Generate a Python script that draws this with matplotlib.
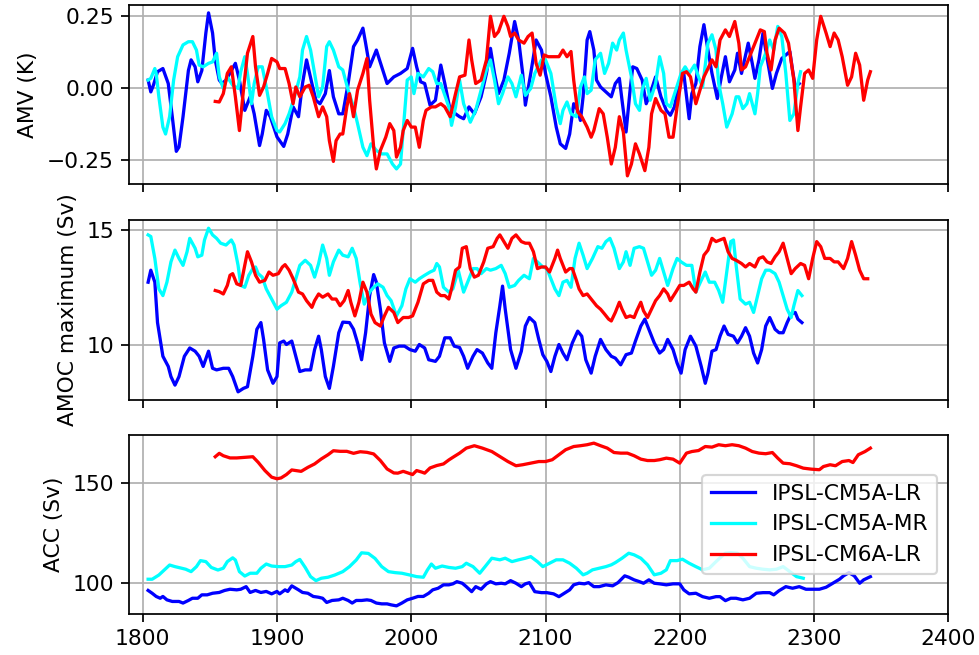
import matplotlib.pyplot as plt

models = ['IPSL-CM5A-LR', 'IPSL-CM5A-MR', 'IPSL-CM6A-LR']
colors = ['blue', 'cyan', 'red']

# ---- AMV (K) ----
amv_lr_yr = [1804, 1806, 1808, 1811, 1815, 1819, 1822, 1825, 1827, 1830, 1834, 1836, 1839, 1841, 1844, 1847,
             1849, 1852, 1854, 1857, 1859, 1862, 1866, 1869, 1872, 1876, 1880, 1883, 1887, 1889, 1892, 1895,
             1900, 1905, 1908, 1912, 1916, 1919, 1922, 1926, 1929, 1932, 1936, 1939, 1942, 1946, 1949, 1953,
             1957, 1960, 1964, 1966, 1969, 1972, 1974, 1978, 1982, 1987, 1992, 1997, 2001, 2004, 2007, 2010,
             2014, 2018, 2022, 2025, 2029, 2033, 2036, 2039, 2043, 2047, 2052, 2056, 2059, 2062, 2065, 2069,
             2073, 2077, 2080, 2083, 2085, 2089, 2093, 2097, 2100, 2104, 2108, 2111, 2115, 2118, 2121, 2124,
             2126, 2128, 2131, 2133, 2136, 2138, 2141, 2145, 2149, 2152, 2155, 2157, 2160, 2163, 2165, 2168,
             2172, 2175, 2178, 2182, 2186, 2190, 2193, 2196, 2200, 2203, 2207, 2209, 2212, 2215, 2218, 2221,
             2224, 2228, 2231, 2234, 2237, 2241, 2243, 2246, 2251, 2254, 2256, 2259, 2262, 2264, 2267, 2269,
             2272, 2276, 2279, 2282, 2284, 2286, 2289]
amv_lr = [0.027, -0.014, 0.01, 0.056, 0.067, 0.015, -0.10, -0.22, -0.205, -0.10, 0.06, 0.097, 0.073, 0.021, 0.06, 0.19,
          0.26, 0.19, 0.097, 0.027, 0.015, 0.027, 0.06, 0.085, 0.027, -0.078, -0.031, -0.09, -0.20, -0.16, -0.078, -0.10,
          -0.17, -0.203, -0.16, -0.066, -0.10, 0.015, 0.097, 0.015, -0.043, -0.055, -0.02, 0.06, -0.031, -0.09, -0.09, 0.015,
          0.143, 0.166, 0.207, 0.155, 0.073, 0.108, 0.131, 0.073, 0.015, 0.038, 0.05, 0.067, 0.137, 0.073, 0.021, 0.015,
          -0.06, -0.043, 0.079, 0.015, -0.078, -0.09, -0.10, -0.107, -0.066, -0.09, -0.031, 0.05, 0.137, 0.05, -0.02, 0.027,
          0.12, 0.23, 0.166, 0.05, -0.06, 0.05, 0.166, 0.131, 0.05, -0.031, -0.136, -0.194, -0.21, -0.16, -0.055, -0.078,
          -0.113, -0.031, 0.166, 0.195, 0.131, 0.027, 0.003, -0.014, -0.031, 0.015, 0.033, -0.043, -0.153, -0.008, 0.073, 0.067,
          0.027, -0.055, -0.02, 0.038, -0.031, -0.078, -0.095, -0.066, 0.027, 0.05, -0.107, -0.02, 0.015, 0.143, 0.219, 0.131,
          0.05, -0.037, 0.038, 0.108, 0.021, 0.062, 0.12, 0.05, 0.155, 0.085, 0.033, 0.097, 0.19, 0.131, 0.05, -0.002,
          0.05, 0.102, 0.114, 0.126, 0.062, 0.003, 0.015]

amv_mr_yr = [1804, 1806, 1809, 1810, 1812, 1815, 1817, 1820, 1823, 1826, 1830, 1834, 1837, 1840, 1842, 1845,
             1849, 1852, 1855, 1857, 1860, 1863, 1867, 1871, 1873, 1876, 1878, 1881, 1883, 1886, 1889, 1892,
             1896, 1900, 1902, 1906, 1909, 1913, 1917, 1919, 1922, 1925, 1928, 1931, 1934, 1937, 1939, 1942,
             1946, 1949, 1953, 1957, 1960, 1964, 1967, 1970, 1974, 1978, 1982, 1986, 1989, 1992, 1994, 1997,
             2000, 2002, 2005, 2009, 2013, 2016, 2019, 2022, 2028, 2030, 2033, 2036, 2039, 2044, 2048, 2052,
             2056, 2059, 2062, 2065, 2068, 2072, 2075, 2078, 2082, 2085, 2089, 2092, 2097, 2100, 2104, 2108,
             2111, 2113, 2116, 2119, 2123, 2126, 2129, 2131, 2134, 2137, 2141, 2144, 2147, 2150, 2153, 2155,
             2158, 2160, 2164, 2167, 2170, 2172, 2175, 2178, 2182, 2185, 2188, 2190, 2193, 2197, 2201, 2204,
             2207, 2211, 2214, 2217, 2221, 2224, 2227, 2229, 2232, 2235, 2239, 2242, 2244, 2247, 2250, 2252,
             2256, 2258, 2260, 2264, 2267, 2270, 2273, 2276, 2279, 2282, 2285, 2288, 2290]
amv_mr = [0.027, 0.033, 0.067, 0.05, -0.031, -0.136, -0.16, -0.10, 0.027, 0.108, 0.149, 0.16, 0.16, 0.131, 0.079, 0.073,
          0.085, 0.09, 0.12, 0.038, -0.002, 0.038, 0.009, -0.002, 0.056, 0.108, 0.05, -0.055, 0.015, 0.073, 0.073, 0.003,
          -0.10, -0.148, -0.153, -0.124, -0.09, -0.031, 0.038, 0.131, 0.178, 0.131, 0.05, -0.031, 0.003, 0.143, 0.16, 0.131,
          0.073, 0.062, -0.008, -0.066, -0.124, -0.206, -0.235, -0.194, -0.217, -0.229, -0.229, -0.264, -0.281, -0.264, -0.148, 0.027,
          0.038, -0.02, 0.05, 0.038, 0.067, 0.056, 0.015, 0.015, -0.066, -0.13, -0.066, 0.027, -0.055, -0.119, -0.078, -0.008,
          0.062, 0.097, 0.027, -0.055, -0.02, 0.038, 0.015, -0.031, 0.044, -0.026, -0.002, 0.05, 0.097, 0.097, 0.05, -0.066,
          -0.124, -0.078, -0.049, -0.09, -0.10, 0.003, 0.038, -0.02, -0.008, 0.097, 0.12, 0.05, 0.085, 0.155, 0.131, 0.166,
          0.19, 0.131, 0.038, -0.055, -0.078, -0.008, 0.033, -0.043, 0.015, 0.108, 0.05, -0.055, -0.066, -0.008, 0.05, 0.073,
          0.05, 0.079, 0.038, 0.003, 0.155, 0.184, 0.131, 0.015, -0.055, -0.136, -0.09, -0.031, -0.031, -0.072, -0.055, -0.02,
          -0.09, -0.02, 0.073, 0.12, 0.166, 0.131, 0.213, 0.178, 0.05, -0.113, -0.09, 0.015, 0.056]

amv_6a_yr = [1854, 1857, 1860, 1863, 1866, 1869, 1872, 1875, 1878, 1882, 1884, 1887, 1890, 1893, 1896, 1900,
             1902, 1906, 1909, 1912, 1914, 1917, 1921, 1924, 1927, 1931, 1934, 1937, 1939, 1942, 1944, 1947,
             1949, 1952, 1954, 1957, 1960, 1964, 1967, 1969, 1972, 1974, 1977, 1981, 1984, 1987, 1989, 1992,
             1994, 1997, 2000, 2003, 2006, 2009, 2011, 2015, 2018, 2022, 2025, 2029, 2033, 2036, 2040, 2043,
             2045, 2048, 2052, 2056, 2059, 2062, 2065, 2069, 2072, 2074, 2077, 2080, 2084, 2087, 2090, 2093,
             2096, 2099, 2102, 2106, 2110, 2113, 2116, 2119, 2121, 2124, 2127, 2131, 2134, 2136, 2140, 2143,
             2146, 2149, 2152, 2155, 2158, 2161, 2164, 2167, 2170, 2174, 2177, 2179, 2182, 2186, 2189, 2192,
             2195, 2198, 2202, 2205, 2208, 2212, 2215, 2218, 2221, 2224, 2227, 2230, 2234, 2237, 2241, 2244,
             2246, 2249, 2252, 2256, 2260, 2263, 2265, 2268, 2271, 2274, 2278, 2281, 2285, 2288, 2290, 2293,
             2296, 2299, 2302, 2305, 2309, 2312, 2315, 2318, 2321, 2325, 2328, 2331, 2334, 2337, 2340, 2342]
amv_6a = [-0.047, -0.049, -0.02, 0.05, 0.073, -0.031, -0.148, -0.008, 0.12, 0.178, 0.073, -0.026, 0.003, 0.05, 0.102, 0.09,
          0.067, 0.067, 0.015, -0.055, 0.003, -0.031, 0.003, 0.009, -0.031, -0.10, -0.066, -0.10, -0.183, -0.255, -0.183, -0.16,
          -0.16, -0.066, -0.02, -0.10, -0.008, 0.05, 0.102, -0.043, -0.206, -0.281, -0.217, -0.171, -0.124, -0.148, -0.24, -0.206,
          -0.148, -0.113, -0.136, -0.136, -0.206, -0.113, -0.078, -0.066, -0.066, -0.055, -0.066, -0.10, -0.02, 0.038, 0.044, 0.166,
          0.097, 0.015, 0.027, 0.097, 0.248, 0.178, 0.195, 0.248, 0.213, 0.178, 0.19, 0.166, 0.155, 0.178, 0.19, 0.085,
          0.044, 0.114, 0.108, 0.108, 0.108, 0.131, 0.108, 0.126, 0.027, -0.084, -0.10, -0.136, -0.171, -0.148, -0.072, -0.09,
          -0.171, -0.264, -0.206, -0.10, -0.153, -0.305, -0.264, -0.194, -0.229, -0.287, -0.206, -0.09, -0.037, -0.078, -0.09, -0.171,
          -0.171, -0.066, 0.05, 0.056, 0.038, -0.055, -0.008, 0.038, 0.067, 0.097, 0.073, 0.166, 0.201, 0.178, 0.23, 0.155,
          0.062, 0.073, 0.108, 0.155, 0.201, 0.195, 0.12, 0.062, 0.166, 0.207, 0.19, 0.155, 0.027, -0.148, -0.066, 0.05,
          0.062, 0.033, 0.166, 0.248, 0.19, 0.143, 0.19, 0.166, 0.108, 0.009, 0.038, 0.12, 0.079, -0.043, 0.027, 0.056]

# ---- AMOC maximum (Sv) ----
amoc_lr_yr = [1804, 1806, 1809, 1811, 1815, 1819, 1821, 1824, 1827, 1831, 1835, 1839, 1842, 1845, 1849, 1852,
              1855, 1860, 1864, 1867, 1871, 1875, 1878, 1882, 1885, 1888, 1890, 1893, 1897, 1900, 1902, 1905,
              1907, 1911, 1914, 1917, 1921, 1925, 1928, 1931, 1933, 1936, 1939, 1942, 1946, 1949, 1954, 1957,
              1960, 1963, 1966, 1969, 1972, 1974, 1977, 1980, 1984, 1987, 1991, 1995, 1999, 2003, 2006, 2010,
              2013, 2018, 2021, 2025, 2029, 2032, 2036, 2039, 2042, 2046, 2049, 2053, 2057, 2060, 2063, 2066,
              2068, 2070, 2074, 2078, 2082, 2085, 2088, 2092, 2095, 2098, 2101, 2104, 2107, 2110, 2113, 2116,
              2120, 2124, 2127, 2130, 2134, 2137, 2141, 2145, 2149, 2152, 2156, 2160, 2164, 2167, 2171, 2174,
              2177, 2181, 2185, 2188, 2191, 2195, 2198, 2201, 2204, 2208, 2212, 2216, 2219, 2221, 2224, 2227,
              2230, 2233, 2236, 2240, 2243, 2246, 2249, 2252, 2255, 2258, 2261, 2264, 2267, 2271, 2274, 2277,
              2280, 2283, 2286, 2288, 2291]
amoc_lr = [12.73, 13.25, 12.73, 10.98, 9.52, 9.08, 8.64, 8.27, 8.64, 9.52, 9.88, 9.74, 9.52, 9.08, 9.74, 9.0,
           8.93, 9.0, 9.0, 8.64, 7.98, 8.13, 8.2, 9.52, 10.69, 10.98, 10.25, 8.93, 8.35, 8.64, 10.1, 10.18,
           10.03, 10.18, 9.52, 8.86, 8.93, 8.93, 9.81, 10.39, 9.81, 8.64, 8.13, 9.08, 10.54, 11.0, 10.98, 10.69,
           10.1, 9.37, 10.54, 12.15, 13.06, 12.73, 11.56, 10.1, 9.30, 9.88, 9.96, 9.96, 9.81, 9.74, 10.03, 9.88,
           9.37, 9.30, 9.52, 10.32, 10.32, 9.96, 9.9, 9.52, 9.0, 9.52, 9.81, 9.66, 9.23, 9.0, 10.54, 11.71,
           12.56, 11.56, 9.81, 9.0, 9.74, 10.83, 11.2, 10.98, 10.25, 9.59, 9.30, 8.86, 9.52, 10.03, 9.66, 9.37,
           10.1, 10.61, 10.39, 9.37, 8.79, 9.52, 10.25, 9.81, 9.52, 9.44, 9.15, 9.59, 9.66, 10.18, 10.83, 11.13,
           10.69, 10.1, 9.66, 9.81, 10.25, 9.81, 9.23, 8.79, 9.81, 10.39, 9.96, 9.08, 8.35, 8.79, 9.74, 9.81,
           10.39, 10.83, 10.47, 10.39, 10.1, 10.39, 10.76, 10.39, 9.66, 9.23, 9.81, 10.83, 11.2, 10.69, 10.54, 10.54,
           10.98, 11.35, 11.42, 11.13, 10.98]

amoc_mr_yr = [1804, 1806, 1809, 1812, 1815, 1818, 1821, 1824, 1827, 1830, 1833, 1835, 1839, 1841, 1844, 1846,
              1849, 1852, 1855, 1858, 1862, 1866, 1868, 1871, 1873, 1876, 1879, 1882, 1884, 1886, 1889, 1892,
              1896, 1900, 1903, 1907, 1911, 1914, 1917, 1921, 1925, 1928, 1931, 1934, 1937, 1939, 1942, 1946,
              1949, 1953, 1956, 1959, 1962, 1965, 1969, 1972, 1975, 1979, 1982, 1985, 1989, 1993, 1996, 1999,
              2003, 2006, 2010, 2014, 2017, 2019, 2021, 2024, 2028, 2031, 2035, 2039, 2042, 2046, 2049, 2052,
              2056, 2059, 2063, 2067, 2070, 2073, 2077, 2080, 2084, 2088, 2091, 2094, 2098, 2101, 2104, 2107,
              2110, 2113, 2116, 2119, 2122, 2125, 2128, 2131, 2135, 2139, 2142, 2145, 2148, 2151, 2155, 2158,
              2160, 2163, 2166, 2170, 2173, 2176, 2179, 2182, 2185, 2188, 2191, 2195, 2198, 2201, 2205, 2209,
              2212, 2216, 2219, 2222, 2226, 2229, 2232, 2235, 2238, 2240, 2242, 2245, 2249, 2252, 2255, 2258,
              2261, 2264, 2267, 2271, 2274, 2277, 2280, 2283, 2285, 2288, 2291]
amoc_mr = [14.78, 14.71, 13.76, 12.44, 12.15, 12.73, 13.61, 14.12, 13.76, 13.46, 14.05, 14.63, 14.2, 13.83, 13.9, 14.56,
           15.07, 14.78, 14.63, 14.42, 14.34, 14.56, 14.34, 13.46, 12.59, 12.51, 13.03, 13.32, 13.39, 13.1, 12.95, 12.44,
           12.0, 11.56, 11.71, 11.86, 12.3, 12.88, 13.46, 13.68, 13.46, 12.95, 13.54, 14.34, 13.76, 13.03, 13.61, 14.12,
           13.9, 13.83, 14.2, 13.76, 12.66, 11.78, 12.3, 12.51, 12.66, 12.51, 12.15, 11.93, 11.27, 11.71, 12.44, 12.88,
           12.73, 12.88, 13.03, 13.17, 13.25, 13.54, 13.39, 12.51, 12.3, 12.44, 13.25, 12.3, 12.73, 13.32, 13.32, 13.1,
           13.32, 13.25, 13.32, 13.46, 13.1, 12.51, 12.59, 12.81, 13.03, 12.88, 13.76, 13.61, 13.39, 13.32, 12.88, 12.44,
           12.15, 12.73, 12.81, 12.51, 13.76, 14.42, 13.9, 13.32, 13.76, 14.27, 14.2, 14.49, 14.63, 14.2, 13.32, 13.61,
           14.05, 13.46, 14.2, 14.27, 14.2, 13.61, 13.03, 13.25, 13.76, 13.17, 12.59, 13.32, 13.76, 13.61, 13.46, 13.46,
           12.3, 12.81, 13.17, 12.73, 12.73, 12.37, 11.86, 13.17, 14.49, 14.56, 13.46, 12.0, 11.78, 11.86, 11.42, 12.15,
           12.88, 13.25, 13.25, 13.1, 12.73, 12.15, 11.56, 11.2, 11.71, 12.37, 12.15]

amoc_6a_yr = [1854, 1857, 1860, 1863, 1865, 1867, 1870, 1873, 1876, 1878, 1881, 1884, 1887, 1891, 1894, 1897,
              1901, 1904, 1906, 1909, 1912, 1916, 1919, 1922, 1926, 1928, 1931, 1934, 1938, 1941, 1944, 1947,
              1950, 1953, 1955, 1958, 1961, 1964, 1967, 1970, 1973, 1977, 1980, 1983, 1987, 1990, 1994, 1998,
              2001, 2005, 2009, 2013, 2016, 2019, 2022, 2025, 2028, 2030, 2033, 2036, 2038, 2041, 2044, 2047,
              2050, 2054, 2057, 2061, 2064, 2066, 2069, 2072, 2075, 2078, 2082, 2085, 2088, 2091, 2094, 2097,
              2100, 2103, 2107, 2109, 2111, 2115, 2118, 2120, 2123, 2125, 2128, 2131, 2134, 2138, 2141, 2144,
              2147, 2149, 2152, 2155, 2157, 2160, 2163, 2166, 2168, 2171, 2173, 2176, 2179, 2182, 2185, 2188,
              2191, 2193, 2197, 2200, 2203, 2207, 2210, 2212, 2215, 2218, 2221, 2224, 2227, 2230, 2233, 2236,
              2239, 2242, 2246, 2249, 2252, 2256, 2259, 2262, 2265, 2268, 2271, 2274, 2277, 2280, 2283, 2286,
              2290, 2293, 2296, 2299, 2302, 2305, 2308, 2312, 2315, 2318, 2322, 2325, 2328, 2331, 2334, 2337,
              2340]
amoc_6a = [12.37, 12.32, 12.22, 12.59, 13.03, 13.1, 12.66, 12.59, 13.46, 14.05, 13.61, 13.03, 12.73, 12.81, 13.17, 13.03,
           13.1, 13.39, 13.49, 13.25, 12.88, 12.3, 12.22, 11.93, 11.64, 11.93, 12.22, 12.08, 12.22, 12.0, 12.0, 11.71,
           11.93, 12.37, 11.86, 11.27, 11.86, 12.73, 12.3, 11.35, 10.98, 10.83, 11.27, 11.64, 11.42, 10.98, 11.2, 11.2,
           11.27, 11.86, 12.66, 12.81, 12.81, 12.3, 12.15, 12.15, 12.0, 12.44, 13.25, 13.39, 14.2, 14.27, 13.32, 12.95,
           13.03, 13.61, 14.2, 14.27, 14.63, 14.78, 14.49, 14.2, 14.63, 14.78, 14.49, 14.42, 14.42, 14.05, 13.32, 13.39,
           13.39, 13.17, 13.76, 14.12, 13.76, 13.17, 13.32, 13.32, 12.81, 12.44, 12.15, 12.22, 12.0, 11.71, 11.56, 11.35,
           11.13, 11.05, 11.42, 11.86, 11.56, 11.2, 11.27, 11.2, 11.49, 11.86, 11.49, 11.2, 11.56, 11.93, 12.15, 12.44,
           12.22, 11.93, 12.3, 12.59, 12.59, 12.73, 12.44, 12.3, 13.17, 13.9, 14.12, 14.63, 14.49, 14.56, 14.63, 14.05,
           13.76, 13.68, 13.54, 13.39, 13.54, 13.39, 13.76, 13.83, 13.61, 13.54, 13.83, 14.05, 14.42, 13.76, 13.1, 13.32,
           13.54, 13.46, 12.88, 13.76, 14.49, 14.27, 13.76, 13.76, 13.61, 13.61, 13.32, 13.76, 14.49, 13.9, 13.25, 12.88,
           12.88]

# ---- ACC (Sv) ----
acc_lr_yr = [1804, 1807, 1810, 1813, 1815, 1818, 1822, 1827, 1830, 1834, 1837, 1841, 1844, 1848, 1852, 1857,
             1861, 1865, 1870, 1873, 1877, 1880, 1884, 1888, 1892, 1896, 1900, 1902, 1906, 1908, 1911, 1916,
             1919, 1923, 1927, 1931, 1934, 1937, 1941, 1946, 1949, 1953, 1956, 1959, 1963, 1967, 1970, 1974,
             1978, 1982, 1985, 1989, 1993, 1997, 2001, 2005, 2009, 2013, 2016, 2020, 2024, 2028, 2031, 2034,
             2038, 2041, 2045, 2048, 2052, 2056, 2059, 2063, 2067, 2070, 2074, 2078, 2082, 2085, 2088, 2092,
             2097, 2101, 2106, 2110, 2114, 2118, 2121, 2125, 2129, 2132, 2136, 2140, 2145, 2150, 2154, 2159,
             2162, 2166, 2170, 2173, 2177, 2181, 2185, 2190, 2195, 2200, 2203, 2207, 2212, 2217, 2222, 2227,
             2230, 2234, 2238, 2242, 2247, 2252, 2257, 2262, 2267, 2270, 2274, 2279, 2284, 2289, 2294, 2299,
             2304, 2309, 2314, 2319, 2322, 2326, 2330, 2334, 2337, 2342]
acc_lr = [96.4, 95.0, 93.4, 92.5, 93.4, 91.7, 90.9, 90.9, 90.1, 91.4, 92.5, 92.5, 94.2, 94.2, 95.0, 95.4,
          96.4, 97.0, 96.7, 97.0, 98.3, 95.4, 96.4, 95.4, 95.9, 94.7, 95.9, 94.7, 96.7, 95.9, 98.7, 96.7,
          95.4, 95.0, 93.4, 93.0, 92.5, 90.4, 91.4, 91.7, 92.5, 91.4, 90.1, 91.4, 91.4, 91.7, 91.4, 90.1,
          89.7, 89.7, 89.2, 88.7, 90.1, 91.7, 92.5, 93.4, 93.4, 95.0, 96.7, 97.5, 99.2, 99.2, 99.7, 100.8,
          100.0, 98.3, 95.8, 98.3, 97.0, 99.7, 100.8, 99.7, 100.0, 99.7, 101.3, 100.0, 98.3, 99.7, 100.3, 95.8,
          95.3, 95.3, 94.7, 93.3, 95.0, 96.7, 99.2, 100.0, 99.7, 100.3, 98.3, 98.3, 99.2, 98.7, 100.3, 103.7,
          103.0, 101.7, 100.8, 100.0, 101.7, 100.0, 99.7, 99.2, 99.7, 99.7, 96.7, 94.7, 95.0, 93.3, 92.5, 93.3,
          93.3, 91.3, 92.5, 92.5, 91.7, 92.5, 95.0, 95.3, 95.3, 94.2, 96.3, 98.3, 97.5, 98.3, 97.0, 97.0,
          97.0, 98.0, 100.0, 102.0, 103.7, 105.3, 103.7, 100.0, 101.7, 103.3]

acc_mr_yr = [1804, 1807, 1812, 1816, 1820, 1824, 1829, 1832, 1836, 1840, 1843, 1847, 1851, 1856, 1860, 1863,
             1867, 1869, 1872, 1876, 1880, 1885, 1888, 1892, 1896, 1901, 1906, 1911, 1914, 1917, 1921, 1925,
             1929, 1933, 1938, 1943, 1949, 1954, 1959, 1963, 1968, 1973, 1978, 1983, 1988, 1993, 1999, 2004,
             2009, 2012, 2015, 2018, 2023, 2028, 2033, 2038, 2041, 2046, 2051, 2055, 2060, 2066, 2070, 2075,
             2080, 2085, 2089, 2094, 2098, 2103, 2108, 2113, 2118, 2123, 2128, 2131, 2135, 2140, 2145, 2149,
             2152, 2157, 2162, 2166, 2171, 2176, 2181, 2186, 2190, 2193, 2198, 2202, 2207, 2212, 2217, 2222,
             2227, 2231, 2234, 2238, 2243, 2247, 2252, 2257, 2262, 2267, 2272, 2277, 2282, 2287, 2292]
acc_mr = [102.0, 102.0, 104.1, 106.6, 109.1, 108.3, 107.5, 107.0, 105.8, 108.3, 111.3, 110.8, 107.9, 106.6, 107.5, 110.8,
          112.7, 111.6, 105.8, 103.6, 105.0, 105.0, 107.5, 109.6, 108.6, 108.3, 108.3, 109.1, 110.8, 111.9, 107.9, 103.3,
          101.3, 102.5, 103.0, 104.1, 105.8, 108.3, 111.6, 115.2, 114.9, 112.4, 108.3, 105.8, 105.3, 105.0, 104.1, 103.3,
          103.0, 106.6, 109.6, 107.5, 108.6, 107.9, 107.5, 108.3, 110.0, 108.3, 105.0, 108.3, 112.5, 111.7, 112.5, 110.8,
          111.7, 112.5, 113.3, 110.8, 108.3, 110.0, 111.7, 111.7, 110.0, 107.5, 104.2, 105.0, 106.7, 107.5, 108.3, 109.2,
          110.3, 112.5, 115.0, 114.2, 112.5, 109.2, 104.2, 105.0, 106.7, 111.3, 111.3, 112.0, 110.0, 108.3, 106.7, 107.5,
          110.8, 113.3, 115.0, 115.3, 115.0, 112.5, 108.3, 107.5, 107.0, 106.7, 107.0, 108.3, 105.8, 103.3, 102.5]

acc_6a_yr = [1854, 1857, 1860, 1865, 1870, 1876, 1882, 1886, 1891, 1896, 1900, 1903, 1907, 1911, 1914, 1918,
             1923, 1928, 1933, 1938, 1942, 1947, 1952, 1957, 1962, 1967, 1972, 1977, 1982, 1987, 1990, 1994,
             1998, 2001, 2004, 2008, 2010, 2014, 2019, 2024, 2028, 2031, 2036, 2041, 2047, 2053, 2060, 2066,
             2072, 2078, 2083, 2089, 2095, 2100, 2105, 2110, 2115, 2121, 2126, 2131, 2136, 2141, 2146, 2151,
             2156, 2161, 2166, 2171, 2176, 2181, 2185, 2190, 2195, 2200, 2205, 2209, 2214, 2219, 2224, 2229,
             2234, 2239, 2244, 2249, 2254, 2259, 2264, 2269, 2273, 2277, 2282, 2287, 2292, 2298, 2304, 2307,
             2312, 2316, 2321, 2326, 2329, 2333, 2338, 2342]
acc_6a = [163.2, 164.9, 163.7, 162.6, 162.6, 162.9, 163.2, 160.4, 156.3, 153.0, 152.2, 152.6, 154.3, 156.6, 156.3, 155.9,
          157.9, 159.6, 162.1, 164.2, 166.2, 165.9, 165.9, 164.9, 165.7, 165.4, 164.6, 161.3, 157.1, 155.1, 155.0, 155.9,
          155.0, 154.3, 156.3, 155.5, 155.0, 157.6, 158.8, 159.6, 161.6, 162.9, 165.0, 167.5, 168.7, 167.5, 165.8, 163.3,
          160.8, 158.7, 159.2, 160.0, 160.8, 160.8, 161.7, 164.2, 166.7, 168.3, 168.7, 169.2, 170.0, 168.7, 167.5, 165.3,
          165.0, 165.0, 163.7, 162.0, 161.3, 161.3, 161.7, 162.5, 162.0, 160.0, 165.0, 165.8, 166.3, 168.3, 168.0, 169.2,
          168.7, 169.2, 168.7, 167.5, 165.8, 165.0, 164.7, 165.3, 162.5, 160.0, 159.7, 158.7, 157.5, 157.0, 156.7, 158.3,
          159.2, 158.7, 160.8, 161.3, 160.3, 164.2, 165.8, 167.5]

amv = [(amv_lr_yr, amv_lr), (amv_mr_yr, amv_mr), (amv_6a_yr, amv_6a)]
amoc = [(amoc_lr_yr, amoc_lr), (amoc_mr_yr, amoc_mr), (amoc_6a_yr, amoc_6a)]
acc = [(acc_lr_yr, acc_lr), (acc_mr_yr, acc_mr), (acc_6a_yr, acc_6a)]

dpi = 157
fig = plt.figure(figsize=(979 / dpi, 655 / dpi), dpi=dpi)
left, width = 0.1321, 0.8365
ax1 = fig.add_axes([left, 0.7191, width, 0.2737])
ax2 = fig.add_axes([left, 0.3893, width, 0.2748], sharex=ax1)
ax3 = fig.add_axes([left, 0.0626, width, 0.2733], sharex=ax1)

for ax, panel, label, ticks in zip([ax1, ax2, ax3], [amv, amoc, acc],
                                   ['AMV (K)', 'AMOC maximum (Sv)', 'ACC (Sv)'],
                                   [[-0.25, 0.0, 0.25], [10, 15], [100, 150]]):
    for (yr, val), name, c in zip(panel, models, colors):
        ax.plot(yr, val, color=c, label=name)
    ax.set_ylabel(label)
    ax.set_yticks(ticks)
    ax.grid(True)

ax1.set_xlim(1790, 2400)
ax1.tick_params(labelbottom=False)
ax2.tick_params(labelbottom=False)
ax3.legend(loc='center right')

fig.savefig('out.png', dpi=dpi)
